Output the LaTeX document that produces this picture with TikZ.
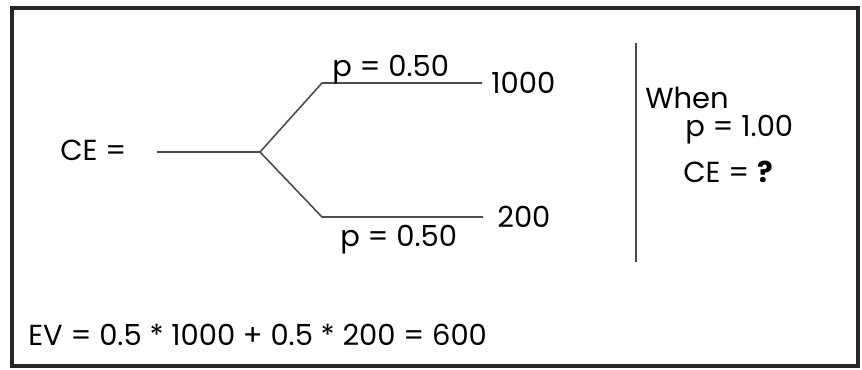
\documentclass[tikz,border=0pt]{standalone}
\usepackage{fontspec}
\setmainfont{Poppins}
\usepackage{tikz}
\usetikzlibrary{positioning}

\begin{document}
\begin{tikzpicture}[
  x=0.02cm, y=-0.02cm,
  txt/.style={inner sep=0pt, anchor=base west, font=\fontsize{16.5}{19}\selectfont},
  branch/.style={draw=black!70, line width=0.9pt}
]
\useasboundingbox (0,0) rectangle (862,369);
\draw[line width=1.8pt, black!85] (12,8) rectangle (858,366);
% tree
\node[txt] (ce) at (60,160) {CE =};
\coordinate (start) at (157,152);
\coordinate (fork) at (260,152);
\coordinate (up) at (322,83);
\coordinate (down) at (322,217);
\coordinate (upend) at (482,83);
\coordinate (downend) at (483,217);
\node[txt] (hi) at (491,93) {1000};
\node[txt] (lo) at (497,227) {200};
\draw[branch] (start) -- (fork) -- (up) -- (upend);
\draw[branch] (fork) -- (down) -- (downend);
\node[txt] (phi) at (332,76) {p = 0.50};
\node[txt] (plo) at (340,246) {p = 0.50};
% right part
\coordinate (bartop) at (636,43);
\coordinate (barbot) at (636,262);
\draw[branch] (bartop) -- (barbot);
\node[txt] (when) at (645,108) {When};
\node[txt] (pone) at (685,136) {p = 1.00};
\node[txt] (ceq) at (683,182) {CE = \textbf{?}};
% expected value
\node[txt] (ev) at (28,345) {EV = 0.5 * 1000 + 0.5 * 200 = 600};
\end{tikzpicture}
\end{document}
